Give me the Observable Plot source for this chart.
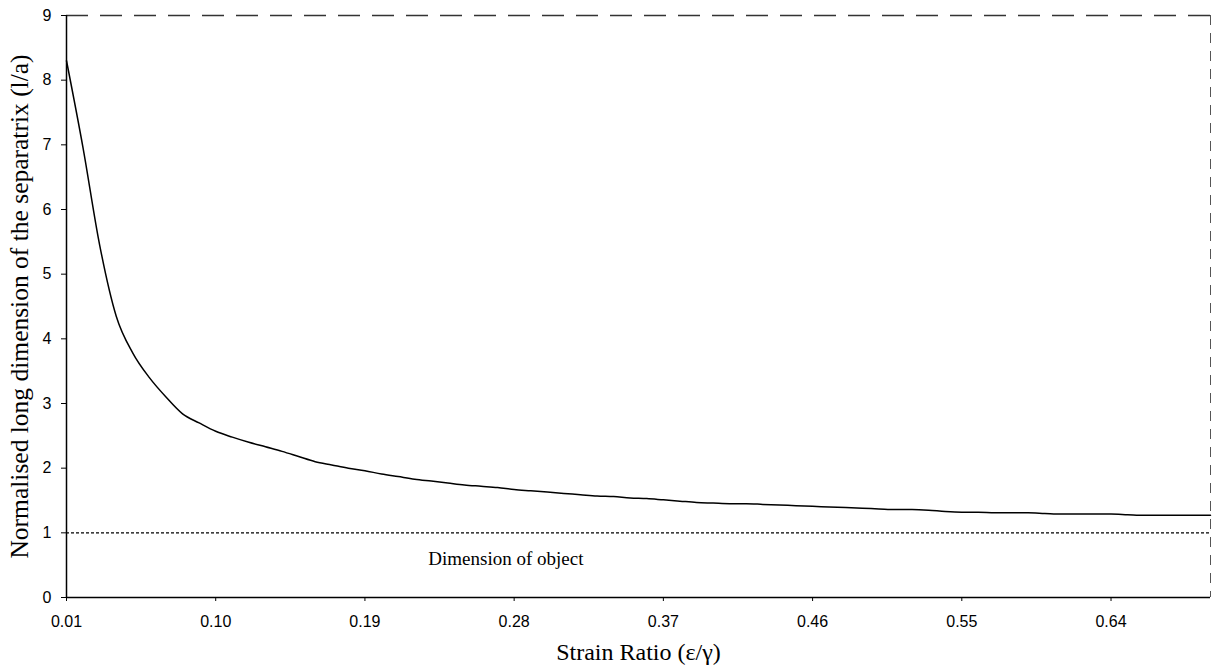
<!DOCTYPE html>
<html>
<head>
<meta charset="utf-8">
<script src="https://cdn.jsdelivr.net/npm/d3@7"></script>
<script src="https://cdn.jsdelivr.net/npm/@observablehq/plot@0.6"></script>
<style>
  html, body { margin: 0; padding: 0; background: #fff; }
  #chart svg { display: block; }
</style>
</head>
<body>
<div id="chart"></div>
<script>
// Strain ratio categories (0.01 .. 0.70)
const strainRatio = [
  0.01,0.02,0.03,0.04,0.05,0.06,0.07,0.08,0.09,0.10,
  0.11,0.12,0.13,0.14,0.15,0.16,0.17,0.18,0.19,0.20,
  0.21,0.22,0.23,0.24,0.25,0.26,0.27,0.28,0.29,0.30,
  0.31,0.32,0.33,0.34,0.35,0.36,0.37,0.38,0.39,0.40,
  0.41,0.42,0.43,0.44,0.45,0.46,0.47,0.48,0.49,0.50,
  0.51,0.52,0.53,0.54,0.55,0.56,0.57,0.58,0.59,0.60,
  0.61,0.62,0.63,0.64,0.65,0.66,0.67,0.68,0.69,0.70
];
// Normalised long dimension of the separatrix (l/a)
const separatrix = [
  8.30,6.95,5.45,4.35,3.78,3.40,3.10,2.84,2.70,2.57,
  2.48,2.40,2.33,2.26,2.18,2.10,2.05,2.00,1.96,1.91,
  1.87,1.83,1.80,1.77,1.74,1.72,1.70,1.67,1.65,1.63,
  1.61,1.59,1.57,1.56,1.54,1.53,1.51,1.49,1.47,1.46,
  1.45,1.45,1.44,1.43,1.42,1.41,1.40,1.39,1.38,1.37,
  1.36,1.36,1.35,1.33,1.32,1.32,1.31,1.31,1.31,1.30,
  1.29,1.29,1.29,1.29,1.28,1.27,1.27,1.27,1.27,1.27
];
const xTicks = [0.01,0.10,0.19,0.28,0.37,0.46,0.55,0.64];
const yTicks = [0,1,2,3,4,5,6,7,8,9];
const objectDimension = [1];
const objectLabel = [{x: 0.275, y: 0.6, text: "Dimension of object"}];
const xLabel = ["Strain Ratio (\u03b5/\u03b3)"];
const yLabel = ["Normalised long dimension of the separatrix (l/a)"];

const data = strainRatio.map((x, i) => ({x, y: separatrix[i]}));
const serif = "'Liberation Serif', 'DejaVu Serif', serif";
const sans = "'Liberation Sans', Arial, sans-serif";

const chart = Plot.plot({
  width: 1214,
  height: 672,
  marginLeft: 66,
  marginRight: 4,
  marginTop: 15,
  marginBottom: 75,
  style: {background: "#fff", color: "#000"},
  x: {domain: [0.01, 0.70]},
  y: {domain: [0, 9]},
  marks: [
    // plot-area border (top & right), dashed
    Plot.ruleY([9], {stroke: "#333", strokeWidth: 1.5, strokeDasharray: "22,12"}),
    Plot.ruleX([0.70], {stroke: "#555", strokeWidth: 1, strokeDasharray: "10,8"}),
    // reference line
    Plot.ruleY(objectDimension, {stroke: "#000", strokeWidth: 1.2, strokeDasharray: "3,2"}),
    Plot.text(objectLabel, {x: "x", y: "y", text: "text", fontFamily: serif, fontSize: 19, fill: "#000"}),
    // axes
    Plot.axisX({ticks: xTicks, tickFormat: d3.format(".2f"), tickSize: 4, tickPadding: 14, fontSize: 16, fontFamily: sans, label: null}),
    Plot.axisY({ticks: yTicks, tickFormat: d3.format("d"), tickSize: 5, tickPadding: 10, fontSize: 16, fontFamily: sans, label: null}),
    Plot.ruleX([0.01], {stroke: "#000", strokeWidth: 1.5}),
    Plot.ruleY([0], {stroke: "#000", strokeWidth: 1.5}),
    // curve
    Plot.line(data, {x: "x", y: "y", stroke: "#000", strokeWidth: 1.5, curve: "monotone-x"}),
    // axis titles
    Plot.text(xLabel, {frameAnchor: "bottom", dy: 62, fontFamily: serif, fontSize: 24, fill: "#000"}),
    Plot.text(yLabel, {frameAnchor: "left", textAnchor: "middle", dx: -47, rotate: -90, fontFamily: serif, fontSize: 25.5, fill: "#000"})
  ]
});
document.getElementById("chart").appendChild(chart);
</script>
</body>
</html>
